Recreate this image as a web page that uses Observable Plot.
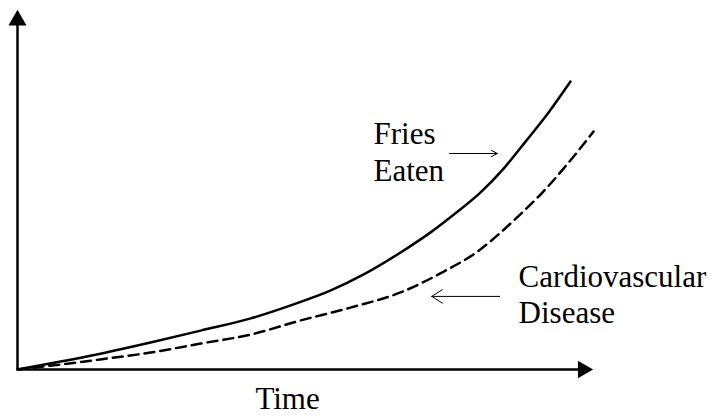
<!DOCTYPE html>
<html>
<head>
<meta charset="utf-8">
<script src="https://cdn.jsdelivr.net/npm/d3@7"></script>
<script src="https://cdn.jsdelivr.net/npm/@observablehq/plot@0.6"></script>
<style>
  html, body { margin: 0; padding: 0; background: #fff; }
  #chart svg { display: block; }
  #chart svg text, #chart svg tspan { font-family: "Liberation Serif", "Times New Roman", serif !important; }
</style>
</head>
<body>
<div id="chart"></div>
<script>
// Time (0–100) vs. amount (0–100)
const friesTime  = [0, 7.5, 14.4, 23.1, 31.8, 40.5, 48.3, 54.3, 60.1, 66.5, 71.9, 76.2, 80.4, 84.4, 88.2, 92.2, 96.0];
const friesValue = [0, 2.2, 4.4, 7.5, 10.8, 14.2, 18.3, 21.9, 26.4, 32.5, 38.3, 43.6, 49.2, 55.8, 63.3, 71.4, 80.0];

const cvdTime  = [0, 7.5, 14.4, 23.1, 31.8, 40.5, 49.1, 57.8, 66.5, 74.0, 79.9, 83.7, 87.3, 90.8, 94.8, 100];
const cvdValue = [0, 1.4, 2.8, 4.7, 7.2, 9.7, 13.6, 17.2, 21.4, 27.2, 32.8, 37.8, 43.1, 48.6, 55.8, 66.1];

// axis extents (data units)
const axisMaxTime = 100;
const axisMaxValue = 100;

// labels
const labels = [
  {t: 61.8, v: 52.5, text: "Fries\nEaten"},
  {t: 87.0, v: 12.8, text: "Cardiovascular\nDisease"}
];
const axisTitle = {t: 41.3, v: -11.0, text: "Time"};

// label pointer arrows
const friesPointer = [{t1: 75.0, v1: 60.0, t2: 83.3, v2: 60.0}];
const cvdPointer = [{t1: 83.7, v1: 20.3, t2: 71.9, v2: 20.3}];

const fries = friesTime.map((t, i) => ({t, v: friesValue[i]}));
const cvd = cvdTime.map((t, i) => ({t, v: cvdValue[i]}));

const font = "Liberation Serif";

const chart = Plot.plot({
  width: 711,
  height: 417,
  marginLeft: 17,
  marginRight: 118,
  marginTop: 9,
  marginBottom: 48,
  x: {domain: [0, axisMaxTime], axis: null},
  y: {domain: [0, axisMaxValue], axis: null},
  style: {fontFamily: "'Liberation Serif', serif", background: "#fff"},
  marks: [
    // axes
    Plot.ruleY([0], {x1: 0, x2: axisMaxTime * 0.975, stroke: "#000", strokeWidth: 2.5}),
    Plot.ruleX([0], {y1: 0, y2: axisMaxValue * 0.96, stroke: "#000", strokeWidth: 2.5}),
    Plot.dot([{t: 0, v: axisMaxValue}], {x: "t", y: "v", symbol: "triangle", r: 6.7, fill: "#000", stroke: "none", dy: 10.7}),
    Plot.dot([{t: axisMaxTime, v: 0}], {x: "t", y: "v", symbol: "triangle", r: 6.5, fill: "#000", stroke: "none", rotate: 90, dx: -10.5}),
    // curves
    Plot.line(fries, {x: "t", y: "v", curve: "monotone-x", stroke: "#000", strokeWidth: 2.5}),
    Plot.line(cvd, {x: "t", y: "v", curve: "monotone-x", stroke: "#000", strokeWidth: 2.5, strokeDasharray: "10,6"}),
    // pointers
    Plot.arrow(friesPointer, {x1: "t1", y1: "v1", x2: "t2", y2: "v2", headLength: 10, headAngle: 55, bend: 0, stroke: "#000", strokeWidth: 1}),
    Plot.arrow(cvdPointer, {x1: "t1", y1: "v1", x2: "t2", y2: "v2", headLength: 19, headAngle: 64, bend: 0, stroke: "#000", strokeWidth: 1}),
    // labels
    Plot.text(labels, {x: "t", y: "v", text: "text", textAnchor: "start", lineAnchor: "bottom", lineHeight: 1.18, fontSize: 31, fill: "#000", fontFamily: font}),
    Plot.text([axisTitle], {x: "t", y: "v", text: "text", textAnchor: "start", lineAnchor: "bottom", fontSize: 31, fill: "#000", fontFamily: font})
  ]
});
document.getElementById("chart").appendChild(chart);
</script>
</body>
</html>
